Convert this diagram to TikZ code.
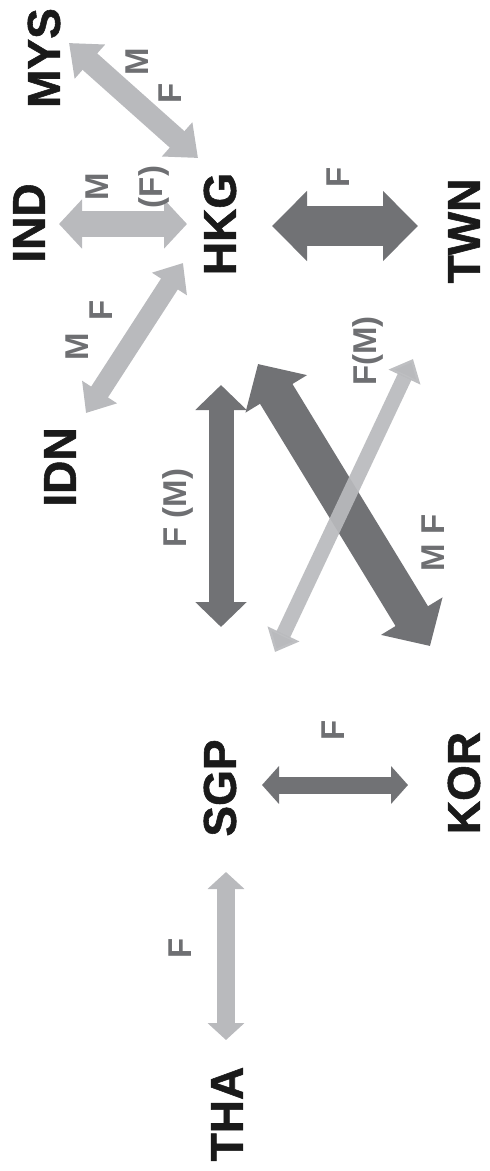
\documentclass[tikz,border=0pt]{standalone}
\usepackage{fontspec}
\setmainfont{Liberation Sans}
\newfontfamily\heavysans[FakeBold=1.2]{Liberation Sans}
\usetikzlibrary{arrows.meta}
\definecolor{lightflow}{HTML}{B9BABD}
\definecolor{darkflow}{HTML}{717275}
\definecolor{labelink}{HTML}{6E6F72}
\definecolor{countryink}{HTML}{1A1A1A}
\begin{document}
\begin{tikzpicture}[x=1pt,y=-1pt,
  country/.style={font=\heavysans\fontsize{46}{46}\selectfont\bfseries, text=countryink, rotate=90, inner sep=0pt},
  flowlabel/.style={font=\fontsize{33}{33}\selectfont\bfseries, text=labelink, rotate=90, inner sep=0pt},
  % colour, shaft width, head width, head length
  flow/.style n args={4}{draw=#1, line width=#2pt,
    arrows={Triangle[length=#4pt,width=#3pt]-Triangle[length=#4pt,width=#3pt]}}]
\useasboundingbox (0,0) rectangle (490,1171);

% countries
\node[country] (MYS) at (44,58)   {MYS};
\node[country] (IND) at (29,223)  {IND};
\node[country] (HKG) at (220,224) {HKG};
\node[country] (TWN) at (464,231) {TWN};
\node[country] (IDN) at (60,467)  {IDN};
\node[country] (SGP) at (220,788) {SGP};
\node[country] (KOR) at (464,783) {KOR};
\node[country] (THA) at (227,1114) {THA};

% arrow end points
\coordinate (mysA) at (69,43);   \coordinate (mysB) at (198,158);
\coordinate (indA) at (59,224);  \coordinate (indB) at (187,224);
\coordinate (idnA) at (86,413);  \coordinate (idnB) at (183,263);
\coordinate (twnA) at (272,226); \coordinate (twnB) at (418,226);
\coordinate (vA) at (221,385);   \coordinate (vB) at (221,627);
\coordinate (dA) at (258,364);   \coordinate (dB) at (430,646);
\coordinate (lA) at (413,359);   \coordinate (lB) at (275,652);
\coordinate (korA) at (262,785); \coordinate (korB) at (408,785);
\coordinate (thaA) at (226,872); \coordinate (thaB) at (226,1040);

% flows
\draw[flow={lightflow}{22}{44}{28}] (mysA) -- (mysB);
\draw[flow={lightflow}{26}{48}{23}] (indA) -- (indB);
\draw[flow={lightflow}{20}{40}{25}] (idnA) -- (idnB);
\draw[flow={darkflow}{40}{68}{35}] (twnA) -- (twnB);
\draw[flow={darkflow}{25}{50}{25}] (vA) -- (vB);
\draw[flow={darkflow}{38}{70}{35}] (dA) -- (dB);
\draw[flow={lightflow}{15}{34}{20}, draw opacity=0.92] (lA) -- (lB);
\draw[flow={darkflow}{17}{37}{17}] (korA) -- (korB);
\draw[flow={lightflow}{18}{36}{17}] (thaA) -- (thaB);

% flow labels
\node[flowlabel] (lmys1) at (137,62)  {M};
\node[flowlabel] (lmys2) at (170,93)  {F};
\node[flowlabel] (lind1) at (97,187)  {M};
\node[flowlabel] (lind2) at (154,187) {(F)};
\node[flowlabel] (lidn1) at (77,347)  {M};
\node[flowlabel] (lidn2) at (101,310) {F};
\node[flowlabel] (ltwn)  at (338,177) {F};
\node[flowlabel] (lvert) at (178,508) {F (M)};
\node[flowlabel] (ldiag) at (433,543) {M F};
\node[flowlabel] (llight) at (368,351) {F(M)};
\node[flowlabel] (lkor)  at (333,730) {F};
\node[flowlabel] (ltha)  at (180,948) {F};
\end{tikzpicture}
\end{document}
